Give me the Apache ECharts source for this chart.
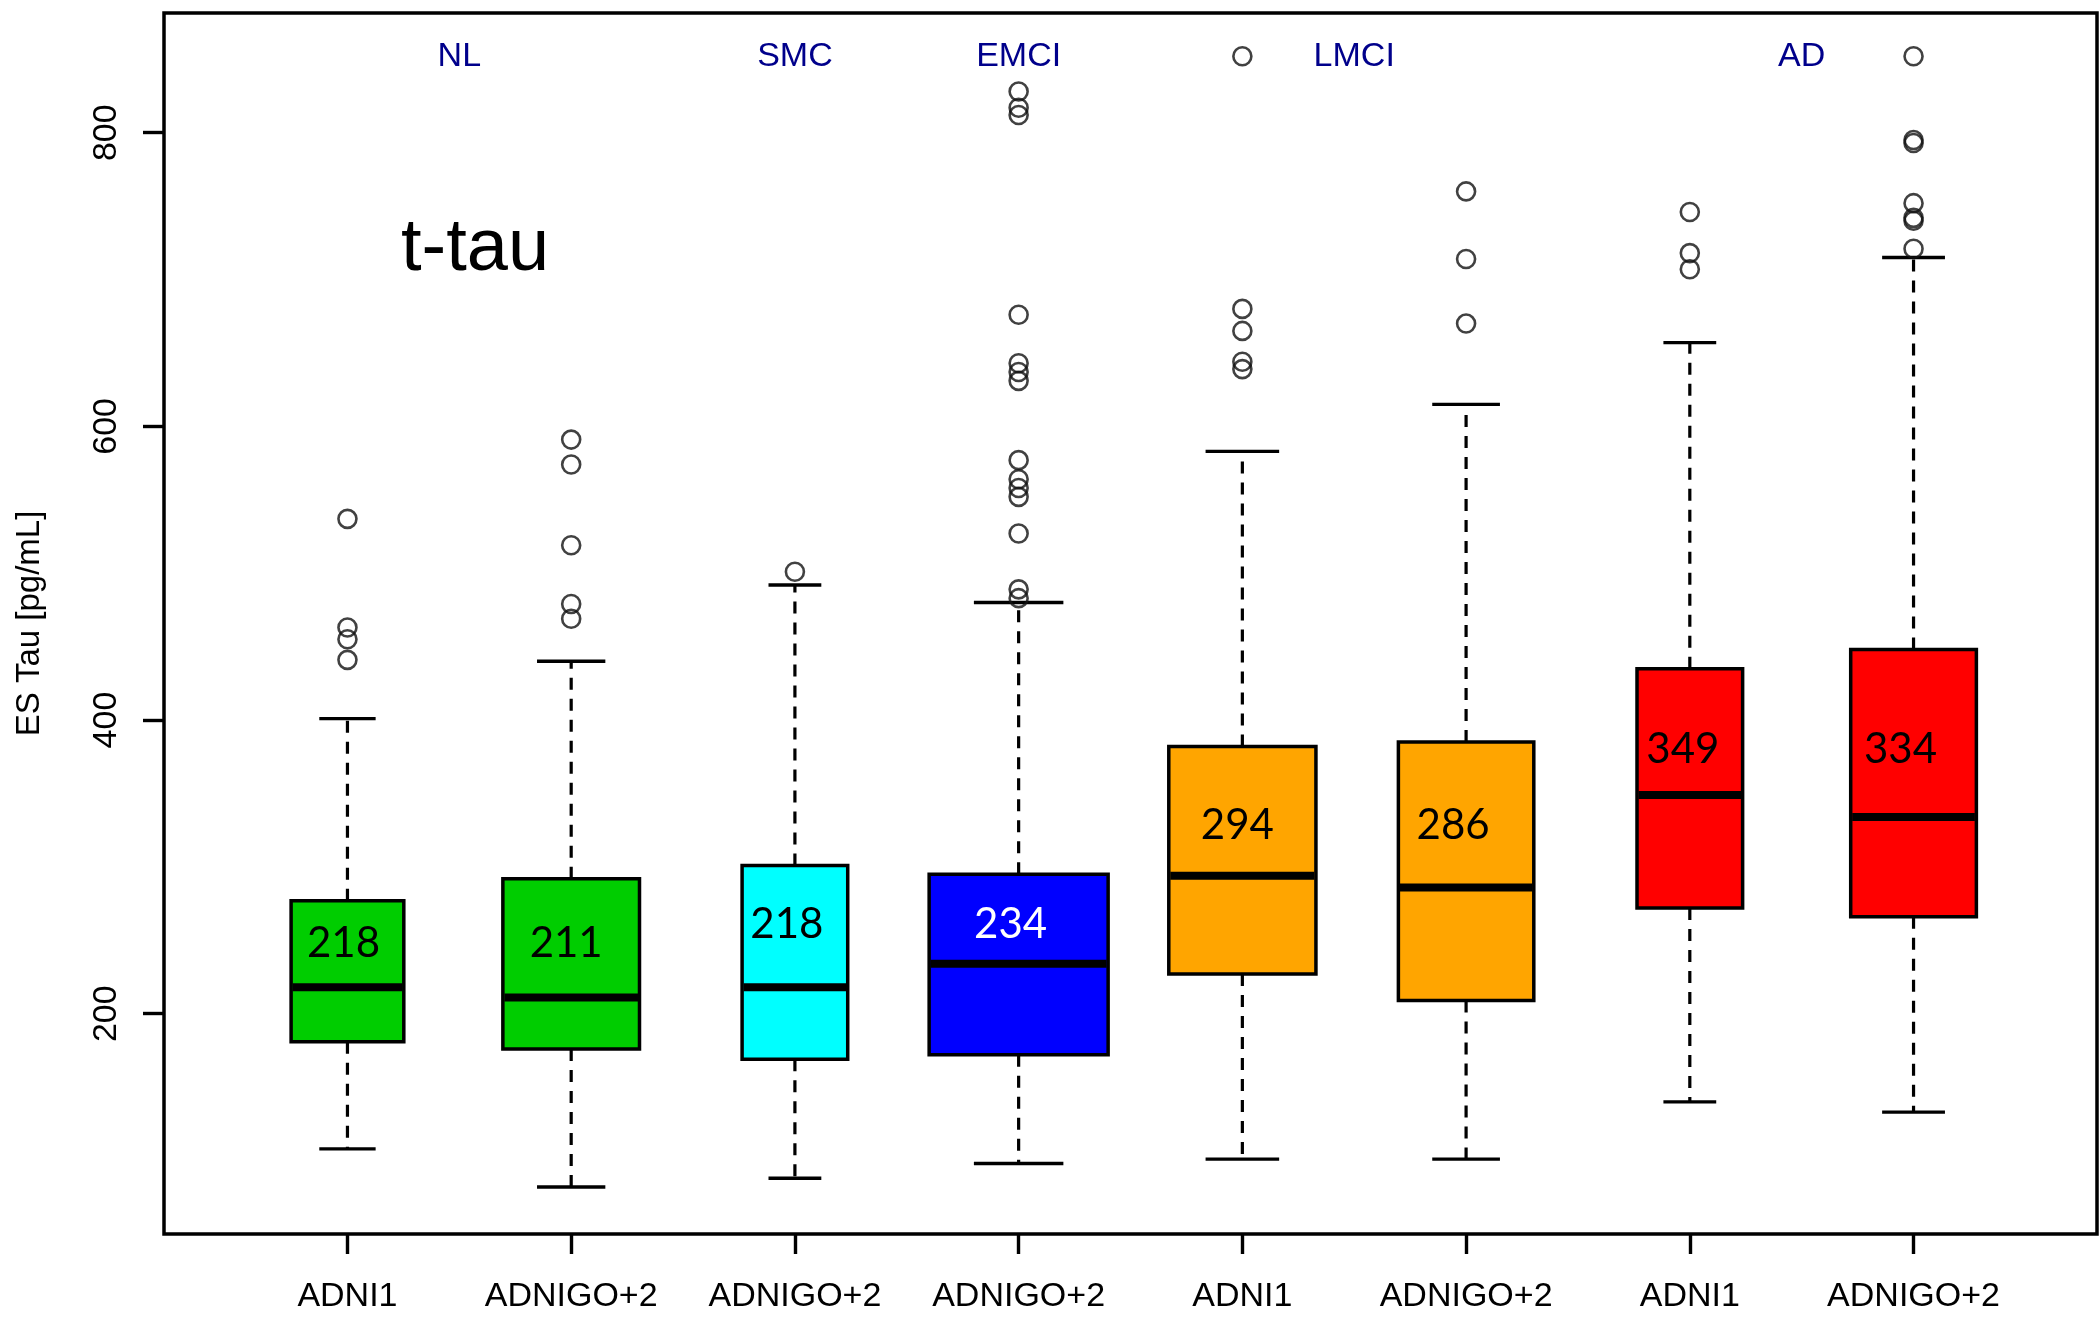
<!DOCTYPE html>
<html>
<head>
<meta charset="utf-8">
<script src="https://cdn.jsdelivr.net/npm/echarts@6/dist/echarts.min.js"></script>
<style>
  html, body { margin: 0; padding: 0; background: #fff; }
  #chart { width: 2099px; height: 1317px; }
</style>
</head>
<body>
<div id="chart"></div>
<script>
// Cohort of each box and its diagnostic group
const cohorts   = ['ADNI1', 'ADNIGO+2', 'ADNIGO+2', 'ADNIGO+2', 'ADNI1', 'ADNIGO+2', 'ADNI1', 'ADNIGO+2'];
const diagnosis = ['NL', 'NL', 'SMC', 'EMCI', 'LMCI', 'LMCI', 'AD', 'AD'];
const groupNames = ['NL', 'SMC', 'EMCI', 'LMCI', 'AD'];

// Five-number summaries of ES Tau (pg/mL)
const lowerWhisker = [108, 82, 88, 98, 101, 101, 140, 133];
const q1           = [181, 176, 169, 172, 227, 209, 272, 266];
const medians      = [218, 211, 218, 234, 294, 286, 349, 334];
const q3           = [277, 292, 301, 295, 382, 385, 435, 448];
const upperWhisker = [401, 440, 492, 480, 583, 615, 657, 715];

// Number of subjects per box (box width grows with sqrt(n))
const groupSizes = [115, 169, 101, 290, 196, 166, 101, 143];

// Values beyond the whiskers
const outliers = [
  [537, 463, 455, 441],
  [591, 574, 519, 479, 469],
  [501],
  [828, 817, 812, 676, 643, 637, 631, 577, 564, 558, 552, 527, 489, 483],
  [852, 680, 665, 644, 639],
  [760, 714, 670],
  [746, 718, 707],
  [852, 795, 793, 752, 742, 740, 721]
];

const yTicks = [200, 400, 600, 800];

// ---- styling / layout ----
const groupColors = { NL: '#00CD00', SMC: '#00FFFF', EMCI: '#0000FF', LMCI: '#FFA500', AD: '#FF0000' };
const labelTextColors = { NL: '#000', SMC: '#000', EMCI: '#fff', LMCI: '#000', AD: '#000' };
// vertical anchor (axis units) and horizontal nudge (px) of the median annotation
const labelRow = [248, 248, 261, 261, 328, 328, 380, 380];
const labelNudge = [-4, -5, -8, -8, -5, -13, -7, -13];
const SANS = '"Liberation Sans", Arial, sans-serif';

const positions = cohorts.map((_, i) => i + 1);
const maxSqrtN = Math.max(...groupSizes.map(n => Math.sqrt(n)));
const boxWidths = groupSizes.map(n => 0.8 * Math.sqrt(n) / maxSqrtN);

const boxData = positions.map((p, i) => [
  p, lowerWhisker[i], q1[i], medians[i], q3[i], upperWhisker[i], boxWidths[i]
]);

const outlierData = [];
outliers.forEach((vals, i) => vals.forEach(v => outlierData.push([positions[i], v])));

const groupTitleData = groupNames.map(g => {
  const xs = positions.filter((_, i) => diagnosis[i] === g);
  return [xs.reduce((a, b) => a + b, 0) / xs.length, 852, g];
});

function renderBox(params, api) {
  const i = params.dataIndex;
  const x = api.value(0);
  const w = api.size([api.value(6), 0])[0];
  const cx = api.coord([x, 0])[0];
  const yLow = api.coord([x, api.value(1)])[1];
  const yQ1 = api.coord([x, api.value(2)])[1];
  const yMed = api.coord([x, api.value(3)])[1];
  const yQ3 = api.coord([x, api.value(4)])[1];
  const yHigh = api.coord([x, api.value(5)])[1];
  const yLabel = api.coord([x, labelRow[i]])[1];
  const g = diagnosis[i];
  const dash = { stroke: '#000', lineWidth: 3.2, lineDash: [12, 9] };
  const solid = { stroke: '#000', lineWidth: 3.4 };
  return {
    type: 'group',
    children: [
      { type: 'line', shape: { x1: cx, y1: yQ3, x2: cx, y2: yHigh }, style: dash },
      { type: 'line', shape: { x1: cx, y1: yQ1, x2: cx, y2: yLow }, style: dash },
      { type: 'line', shape: { x1: cx - w / 4, y1: yHigh, x2: cx + w / 4, y2: yHigh }, style: solid },
      { type: 'line', shape: { x1: cx - w / 4, y1: yLow, x2: cx + w / 4, y2: yLow }, style: solid },
      { type: 'rect', shape: { x: cx - w / 2, y: yQ3, width: w, height: yQ1 - yQ3 },
        style: { fill: groupColors[g], stroke: '#000', lineWidth: 3.5 } },
      { type: 'line', shape: { x1: cx - w / 2 + 1.5, y1: yMed, x2: cx + w / 2 - 1.5, y2: yMed },
        style: { stroke: '#000', lineWidth: 8 } },
      { type: 'text', x: cx + labelNudge[i], y: yLabel,
        style: { text: String(api.value(3)), fill: labelTextColors[g], fontSize: 42,
                 fontFamily: 'Lato, "Open Sans", sans-serif', align: 'center', verticalAlign: 'middle' } }
    ]
  };
}

function renderGroupTitle(params, api) {
  const p = api.coord([api.value(0), api.value(1)]);
  return {
    type: 'text', x: p[0], y: p[1],
    style: { text: groupTitleData[params.dataIndex][2], fill: '#00008B', fontSize: 34,
             fontFamily: SANS, align: 'center', verticalAlign: 'middle' }
  };
}

const chart = echarts.init(document.getElementById('chart'), null, { renderer: 'canvas' });
chart.setOption({
  animation: false,
  backgroundColor: '#fff',
  grid: { left: 164, top: 13, right: 2, bottom: 83, show: true, borderColor: '#000', borderWidth: 3.5 },
  xAxis: {
    type: 'value', min: 0.18, max: 8.82,
    splitLine: { show: false },
    axisLine: { show: false },
    axisTick: { show: true, length: 20, customValues: positions, lineStyle: { color: '#000', width: 3.4 } },
    axisLabel: {
      customValues: positions, margin: 46, fontSize: 34, fontFamily: SANS, color: '#000',
      formatter: v => cohorts[Math.round(v) - 1] || ''
    }
  },
  yAxis: {
    type: 'value', min: 50, max: 881.5,
    name: 'ES Tau [pg/mL]', nameLocation: 'middle', nameGap: 118,
    nameTextStyle: { fontSize: 33, fontFamily: SANS, color: '#000' },
    splitLine: { show: false },
    axisLine: { show: false },
    axisTick: { show: true, length: 21, customValues: yTicks, lineStyle: { color: '#000', width: 3.4 } },
    axisLabel: { customValues: yTicks, rotate: 90, margin: 40, fontSize: 34, fontFamily: SANS, color: '#000' }
  },
  graphic: [{
    type: 'text', x: 475, y: 250, z: 10,
    style: { text: 't-tau', fontSize: 74, fontFamily: SANS, fill: '#000', align: 'center', verticalAlign: 'middle' }
  }],
  series: [
    { type: 'custom', name: 'boxes', renderItem: renderBox, data: boxData,
      encode: { x: 0, y: [1, 2, 3, 4, 5] }, clip: false, z: 2 },
    { type: 'scatter', name: 'outliers', data: outlierData, symbol: 'circle', symbolSize: 18,
      itemStyle: { color: 'rgba(0,0,0,0)', borderColor: '#111', borderWidth: 2.6 }, z: 3 },
    { type: 'custom', name: 'groups', renderItem: renderGroupTitle,
      data: groupTitleData.map(d => [d[0], d[1]]), encode: { x: 0, y: 1 }, z: 4 }
  ]
});
</script>
</body>
</html>
